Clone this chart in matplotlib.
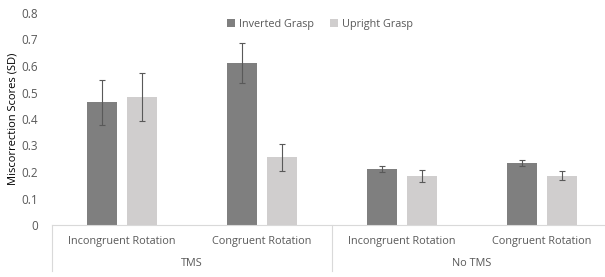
import matplotlib
matplotlib.use('Agg')
import matplotlib.pyplot as plt
import matplotlib.transforms as mtransforms
import numpy as np

plt.rcParams['font.family'] = ['Open Sans', 'DejaVu Sans']

# ── Data ─────────────────────────────────────────────────────────
conditions = ['Incongruent Rotation', 'Congruent Rotation',
              'Incongruent Rotation', 'Congruent Rotation']
groups     = ['TMS', 'No TMS']
inverted     = [0.463, 0.610, 0.211, 0.234]
inverted_err = [0.085, 0.076, 0.012, 0.012]
upright      = [0.483, 0.256, 0.184, 0.185]
upright_err  = [0.091, 0.051, 0.022, 0.017]

DARK  = '#7F7F7F'
LIGHT = '#D0CECE'
TEXT  = '#595959'
LINE  = '#D9D9D9'

fig = plt.figure(figsize=(6.05, 2.77), dpi=100)
ax = fig.add_axes([52 / 605, 1 - 225 / 277, 553 / 605, 212 / 277])

x = np.arange(len(conditions))
w = 0.22
off = 0.143
err_kw = dict(ecolor=TEXT, elinewidth=0.8, capsize=2, capthick=0.8)
ax.bar(x - off, inverted, w, yerr=inverted_err, color=DARK,
       label='Inverted Grasp', error_kw=err_kw)
ax.bar(x + off, upright, w, yerr=upright_err, color=LIGHT,
       label='Upright Grasp', error_kw=err_kw)

ax.set_xlim(-0.5, 3.45)
ax.set_ylim(0, 0.8)
ax.set_yticks(np.arange(0, 0.81, 0.1))
ax.set_yticklabels(['0'] + [f'{v:.1f}' for v in np.arange(0.1, 0.81, 0.1)])
ax.tick_params(axis='y', length=0, colors=TEXT, labelsize=8.5, pad=10)
ax.set_xticks([])
for s in ['top', 'right', 'left']:
    ax.spines[s].set_visible(False)
ax.spines['bottom'].set_color(LINE)

ax.set_ylabel('Miscorrection Scores (SD)', color='black', fontsize=8,
              labelpad=2)

# two-level category axis
trans = mtransforms.blended_transform_factory(ax.transData, ax.transAxes)
for i, c in enumerate(conditions):
    ax.text(i, -0.08, c, transform=trans, ha='center', va='center',
            fontsize=7.8, color=TEXT)
for j, g in enumerate(groups):
    ax.text(2 * j + 0.5, -0.18, g, transform=trans, ha='center',
            va='center', fontsize=7.8, color=TEXT)
for xs in [-0.5, 1.5]:
    ax.plot([xs, xs], [0, -0.215], transform=trans, color=LINE,
            lw=0.8, clip_on=False)

ax.legend(loc='upper center', bbox_to_anchor=(0.485, 1.02), ncol=2,
          frameon=False, fontsize=7.8, labelcolor=TEXT,
          handlelength=0.7, handleheight=0.7, columnspacing=1.5,
          handletextpad=0.4)

fig.savefig('out.png', dpi=100, facecolor='white')
